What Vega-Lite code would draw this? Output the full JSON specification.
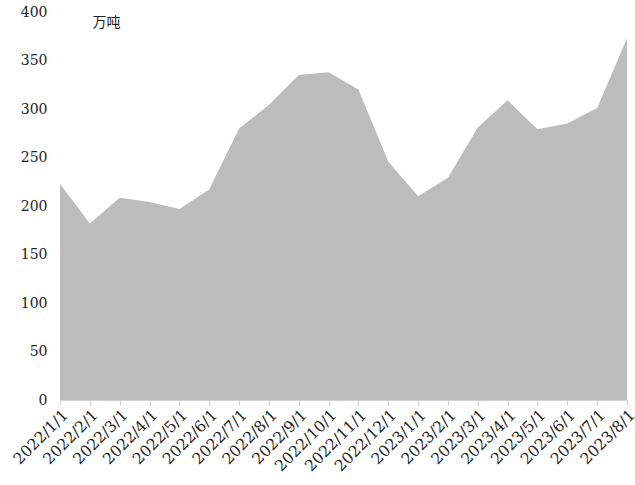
{
  "$schema": "https://vega.github.io/schema/vega-lite/v6.json",
  "autosize": "none",
  "width": 567,
  "height": 388,
  "padding": {"left": 60, "top": 12, "right": 8, "bottom": 85},
  "background": "white",
  "config": {"view": {"stroke": null}},
  "data": {"values": [
    {"date": "2022/1/1", "v": 223},
    {"date": "2022/2/1", "v": 182},
    {"date": "2022/3/1", "v": 208.5},
    {"date": "2022/4/1", "v": 204},
    {"date": "2022/5/1", "v": 197},
    {"date": "2022/6/1", "v": 217},
    {"date": "2022/7/1", "v": 280},
    {"date": "2022/8/1", "v": 304},
    {"date": "2022/9/1", "v": 335},
    {"date": "2022/10/1", "v": 338},
    {"date": "2022/11/1", "v": 320},
    {"date": "2022/12/1", "v": 246},
    {"date": "2023/1/1", "v": 210},
    {"date": "2023/2/1", "v": 229},
    {"date": "2023/3/1", "v": 281},
    {"date": "2023/4/1", "v": 309},
    {"date": "2023/5/1", "v": 279},
    {"date": "2023/6/1", "v": 285},
    {"date": "2023/7/1", "v": 301},
    {"date": "2023/8/1", "v": 373}
  ]},
  "mark": {"type": "area", "color": "#bcbcbc", "opacity": 1},
  "encoding": {
    "x": {
      "field": "date", "type": "ordinal", "sort": null,
      "scale": {"type": "point", "padding": 0},
      "axis": {
        "title": null, "labelAngle": -45, "labelAlign": "right", "labelBaseline": "top",
        "labelFont": "DejaVu Serif", "labelFontSize": 15.5, "labelColor": "#222",
        "labelPadding": 2, "domainColor": "#d0d0d0", "tickColor": "#d0d0d0", "tickSize": 5,
        "grid": false
      }
    },
    "y": {
      "field": "v", "type": "quantitative",
      "scale": {"domain": [0, 400], "nice": false},
      "axis": {
        "values": [0, 50, 100, 150, 200, 250, 300, 350, 400],
        "title": "万吨", "titleAngle": 0, "titleX": 46, "titleY": 10, "titleAlign": "center",
        "titleBaseline": "middle", "titleFont": "Noto Sans CJK SC", "titleFontSize": 14,
        "titleFontWeight": "normal", "titleColor": "#222",
        "labelFont": "DejaVu Serif", "labelFontSize": 14, "labelColor": "#222",
        "labelPadding": 13, "ticks": false, "domain": false, "grid": false
      }
    }
  }
}
